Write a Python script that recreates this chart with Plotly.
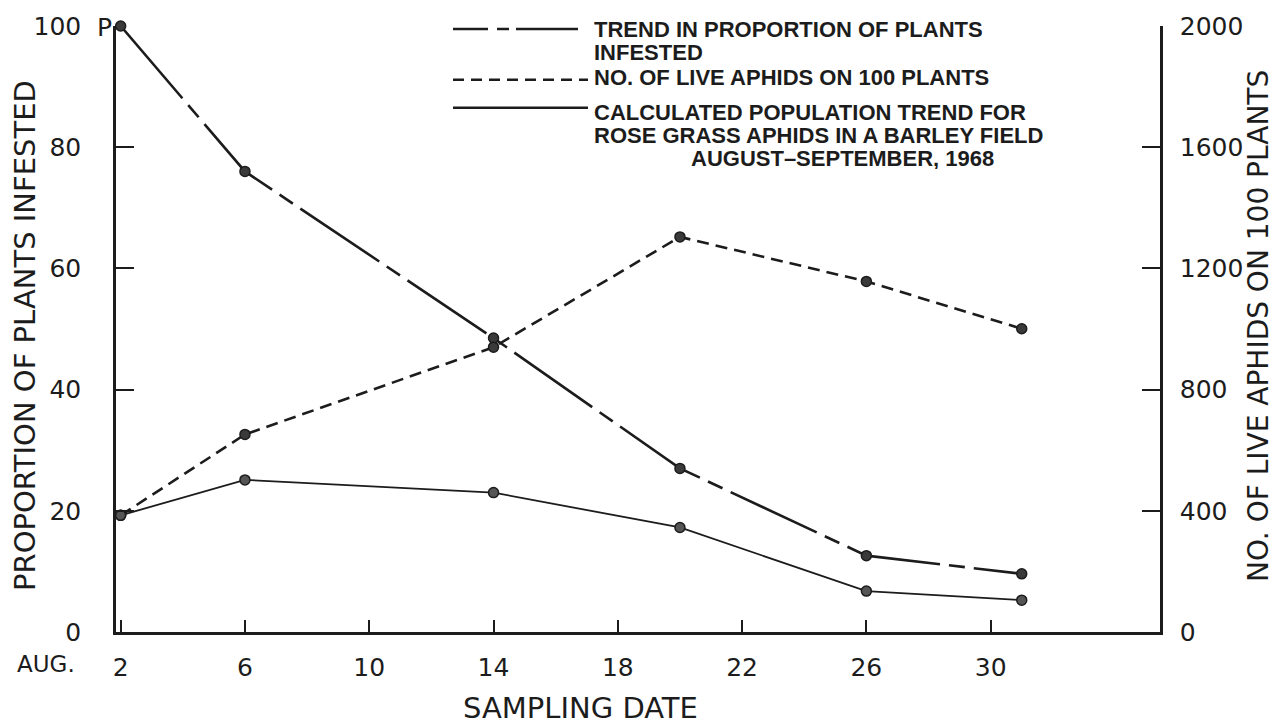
import plotly.graph_objects as go

# ---- data ----
dates = [2, 6, 14, 20, 26, 31]
pct_infested = [100, 76, 48.5, 27, 12.6, 9.6]          # left axis (long dash)
live_aphids = [385, 652, 940, 1304, 1157, 1001]        # right axis (short dash)
calc_population = [385, 502, 460, 345, 135, 105]       # right axis (thin solid)

x_ticks = [2, 6, 10, 14, 18, 22, 26, 30]
y_left_ticks = [0, 20, 40, 60, 80, 100]
y_right_ticks = [0, 400, 800, 1200, 1600, 2000]

# ---- layout geometry (pixels) ----
W, H = 1276, 728
L, R, T, B = 116, 1160, 24, 632
INK = "#1c1c1c"
FONT = "DejaVu Sans, Liberation Sans, sans-serif"
BOLD = "Liberation Sans, Arial, sans-serif"


def px(x):
    return (x - L) / (R - L)


def py(y):
    return (B - y) / (B - T)


fig = go.Figure()

fig.add_trace(go.Scatter(
    x=dates, y=pct_infested, mode="lines+markers", yaxis="y",
    line=dict(color=INK, width=2.6, dash="95px,9px,16px,9px"),
    marker=dict(size=10, color="#3a3a3a", line=dict(color=INK, width=1.5)),
    showlegend=False, cliponaxis=False))

fig.add_trace(go.Scatter(
    x=dates, y=live_aphids, mode="lines+markers", yaxis="y2",
    line=dict(color=INK, width=2.6, dash="12px,7px"),
    marker=dict(size=10, color="#3a3a3a", line=dict(color=INK, width=1.5)),
    showlegend=False, cliponaxis=False))

fig.add_trace(go.Scatter(
    x=dates, y=calc_population, mode="lines+markers", yaxis="y2",
    line=dict(color=INK, width=1.8),
    marker=dict(size=10, color="#555555", line=dict(color=INK, width=1.5)),
    showlegend=False, cliponaxis=False))

# ---- legend drawn by hand ----
shapes = []
leg_x0, leg_x1 = 453, 588
for a, b in [(453, 488), (497, 509), (516, 578)]:
    shapes.append(dict(type="line", xref="paper", yref="paper",
                       x0=px(a), x1=px(b), y0=py(27), y1=py(27),
                       line=dict(color=INK, width=2.5)))
shapes.append(dict(type="line", xref="paper", yref="paper",
                   x0=px(leg_x0), x1=px(leg_x1), y0=py(78), y1=py(78),
                   line=dict(color=INK, width=2.5, dash="11px,7px")))
shapes.append(dict(type="line", xref="paper", yref="paper",
                   x0=px(leg_x0), x1=px(leg_x1), y0=py(106), y1=py(106),
                   line=dict(color=INK, width=2.5)))

annotations = []
legend_lines = [
    ("TREND IN PROPORTION OF PLANTS", 592, 28, "left"),
    ("INFESTED", 592, 51, "left"),
    ("NO. OF LIVE APHIDS ON 100 PLANTS", 592, 76, "left"),
    ("CALCULATED POPULATION TREND FOR", 592, 111, "left"),
    ("ROSE GRASS APHIDS IN A BARLEY FIELD", 592, 134, "left"),
    ("AUGUST\u2013SEPTEMBER, 1968", 842, 157, "center"),
]
for txt, x, y, anc in legend_lines:
    annotations.append(dict(text="<b>" + txt + "</b>", x=px(x), y=py(y),
                            xref="paper", yref="paper", height=21,
                            xanchor=anc, yanchor="middle", showarrow=False,
                            font=dict(family=BOLD, size=22, color=INK)))

annotations += [
    dict(text="PROPORTION OF PLANTS INFESTED", x=px(25), y=py(335), xref="paper", yref="paper",
         textangle=-90, showarrow=False, xanchor="center", yanchor="middle",
         font=dict(family=FONT, size=29, color=INK)),
    dict(text="NO. OF LIVE APHIDS ON 100 PLANTS", x=px(1258), y=py(325), xref="paper", yref="paper",
         textangle=-90, showarrow=False, xanchor="center", yanchor="middle",
         font=dict(family=FONT, size=28, color=INK)),
    dict(text="SAMPLING DATE", x=px(580), y=py(708), xref="paper", yref="paper",
         showarrow=False, xanchor="center", yanchor="middle",
         font=dict(family=FONT, size=29, color=INK)),
    dict(text="AUG.", x=px(46), y=py(664), xref="paper", yref="paper",
         showarrow=False, xanchor="center", yanchor="middle",
         font=dict(family=FONT, size=23, color=INK)),
    dict(text="P", x=px(104), y=py(26), xref="paper", yref="paper",
         showarrow=False, xanchor="center", yanchor="middle",
         font=dict(family=FONT, size=25, color=INK)),
]

axis_common = dict(showgrid=False, zeroline=False, showline=True, linecolor=INK,
                   linewidth=2.5, ticks="inside", tickcolor=INK, tickwidth=2,
                   tickfont=dict(family=FONT, size=25, color=INK))

fig.update_layout(
    width=W, height=H, autosize=False,
    margin=dict(l=L, r=W - R, t=T, b=H - B),
    paper_bgcolor="white", plot_bgcolor="white",
    xaxis=dict(range=[1.85, 35.45], tickvals=x_ticks, ticklen=12,
               ticklabelstandoff=11, **axis_common),
    yaxis=dict(range=[0, 100], tickvals=y_left_ticks, ticklen=18,
               ticklabelstandoff=27, **axis_common),
    yaxis2=dict(range=[0, 2000], tickvals=y_right_ticks, ticklen=18,
                ticklabelstandoff=12, overlaying="y", side="right", anchor="x",
                **axis_common),
    shapes=shapes, annotations=annotations,
)

fig.write_html("out.html")
